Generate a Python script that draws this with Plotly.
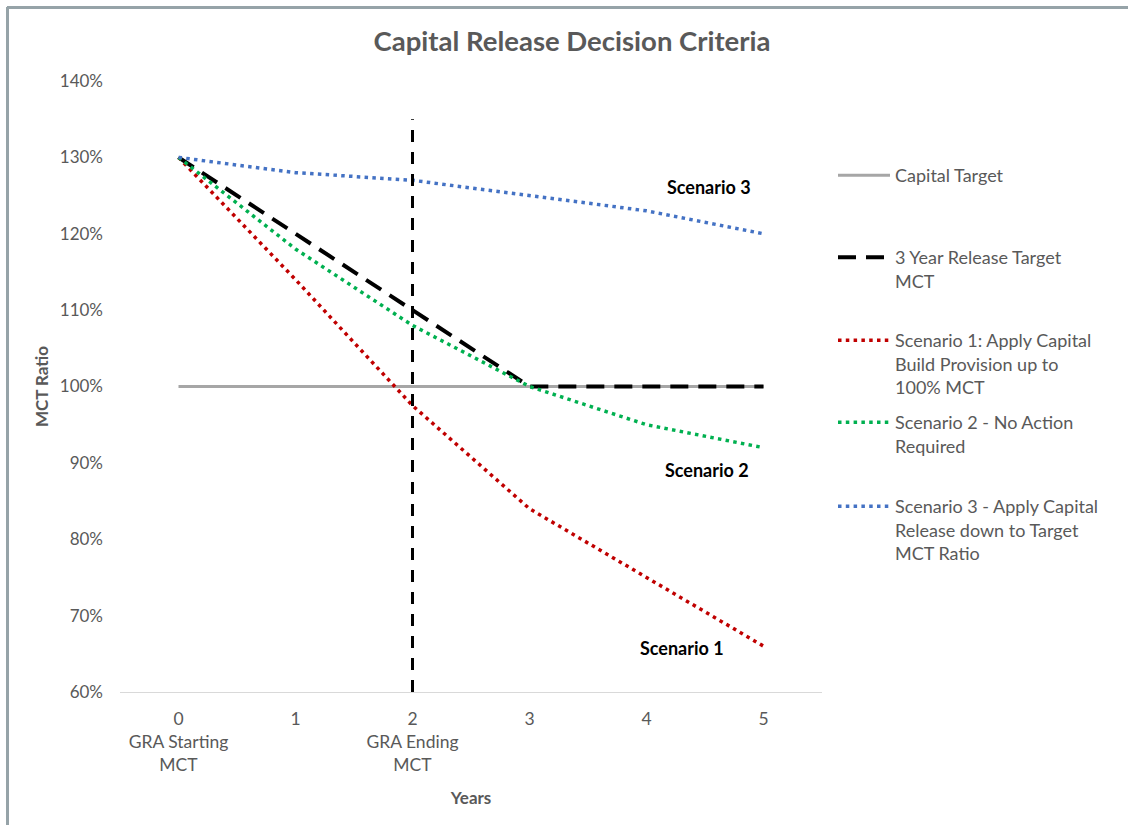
import plotly.graph_objects as go

# Years on the horizontal axis and their tick labels
years = [0, 1, 2, 3, 4, 5]
year_labels = ["0<br>GRA Starting<br>MCT", "1", "2<br>GRA Ending<br>MCT", "3", "4", "5"]

# MCT ratios (%) by year
capital_target = [100, 100, 100, 100, 100, 100]
release_target = [130, 120, 110, 100, 100, 100]
scenario_1 = [130, 114, 97.5, 84, 75, 66]
scenario_2 = [130, 118, 108, 100, 95, 92]
scenario_3 = [130, 128, 127, 125, 123, 120]

# End of the GRA period, marked by a vertical dashed line
gra_end_year = 2
gra_line_top = 135

GREY_TEXT = "#595959"
FONT = "Lato"
DOTS = "3.5px,4.3px"

# Plot area in pixels (left, right, top, bottom)
W, H = 1128, 825
PL, PR, PT, PB = 120, 822, 81, 692


def px_x(px):
    return (px - PL) / (PR - PL)


def px_y(py):
    return (PB - py) / (PB - PT)


fig = go.Figure()

series = [
    ("Capital Target", capital_target, dict(color="#a6a6a6", width=3), "legend", 176),
    ("3 Year Release Target<br>MCT", release_target,
     dict(color="#000000", width=4, dash="18px,10px"), "legend2", 258),
    ("Scenario 1: Apply Capital<br>Build Provision up to<br>100% MCT", scenario_1,
     dict(color="#c00000", width=3.5, dash=DOTS), "legend3", 341),
    ("Scenario 2 - No Action<br>Required", scenario_2,
     dict(color="#00b050", width=3.5, dash=DOTS), "legend4", 423),
    ("Scenario 3 - Apply Capital<br>Release down to Target<br>MCT Ratio", scenario_3,
     dict(color="#4472c4", width=3.5, dash=DOTS), "legend5", 507),
]

legend_layouts = {}
for name, values, line, legend_id, first_line_y in series:
    fig.add_trace(go.Scatter(
        x=years, y=values, mode="lines", name=name, line=line,
        legend=legend_id, showlegend=True, hoverinfo="skip",
    ))
    legend_layouts[legend_id] = dict(
        x=px_x(833), y=px_y(first_line_y - 19), xanchor="left", yanchor="top",
        valign="top", bgcolor="rgba(0,0,0,0)", borderwidth=0,
        font=dict(family=FONT, size=18, color=GREY_TEXT),
        itemwidth=52, visible=True,
    )

# Scenario labels next to the line ends
scenario_labels = [
    ("Scenario 3", 4.906, 126.1),
    ("Scenario 2", 4.889, 89.1),
    ("Scenario 1", 4.683, 65.8),
]
for text, lx, ly in scenario_labels:
    fig.add_annotation(
        x=lx, y=ly, text=f"<b>{text}</b>", showarrow=False,
        xanchor="right", yanchor="middle",
        font=dict(family=FONT, size=18, color="#000000"),
    )

# Vertical dashed line at the end of the GRA period
fig.add_shape(
    type="line", xref="x", yref="y",
    x0=gra_end_year, x1=gra_end_year, y0=60, y1=gra_line_top,
    line=dict(color="#000000", width=3, dash="12px,10px"),
)

# Chart frame along the top and left edges
frame = dict(color="#96a3a8", width=3)
fig.add_shape(type="line", xref="paper", yref="paper",
              x0=px_x(7), x1=px_x(1135), y0=px_y(7.5), y1=px_y(7.5), line=frame)
fig.add_shape(type="line", xref="paper", yref="paper",
              x0=px_x(7.5), x1=px_x(7.5), y0=px_y(7), y1=px_y(835), line=frame)

fig.update_layout(
    width=W, height=H, showlegend=True,
    margin=dict(l=PL, r=W - PR, t=PT, b=H - PB, pad=0),
    paper_bgcolor="white", plot_bgcolor="white",
    font=dict(family=FONT, color=GREY_TEXT, size=16),
    title=dict(
        text="<b>Capital Release Decision Criteria</b>",
        x=572 / W, xref="container", xanchor="center",
        y=1 - 41 / H, yref="container", yanchor="middle",
        font=dict(family=FONT, size=27.5, color=GREY_TEXT),
    ),
    xaxis=dict(
        range=[-0.5, 5.5], tickmode="array", tickvals=years, ticktext=year_labels,
        showgrid=False, zeroline=False, showline=True, linecolor="#d9d9d9", linewidth=1,
        ticks="", tickfont=dict(family=FONT, size=17.5, color=GREY_TEXT),
        ticklabelstandoff=11,
        title=dict(text="<b>Years</b>", standoff=18,
                   font=dict(family=FONT, size=17, color=GREY_TEXT)),
    ),
    yaxis=dict(
        range=[60, 140], dtick=10, ticksuffix="%",
        showgrid=False, zeroline=False, showline=False, ticks="",
        tickfont=dict(family=FONT, size=17, color=GREY_TEXT),
        ticklabelstandoff=16,
        title=dict(text="<b>MCT Ratio</b>", standoff=6,
                   font=dict(family=FONT, size=17, color=GREY_TEXT)),
    ),
    **legend_layouts,
)

fig.write_html("out.html")
